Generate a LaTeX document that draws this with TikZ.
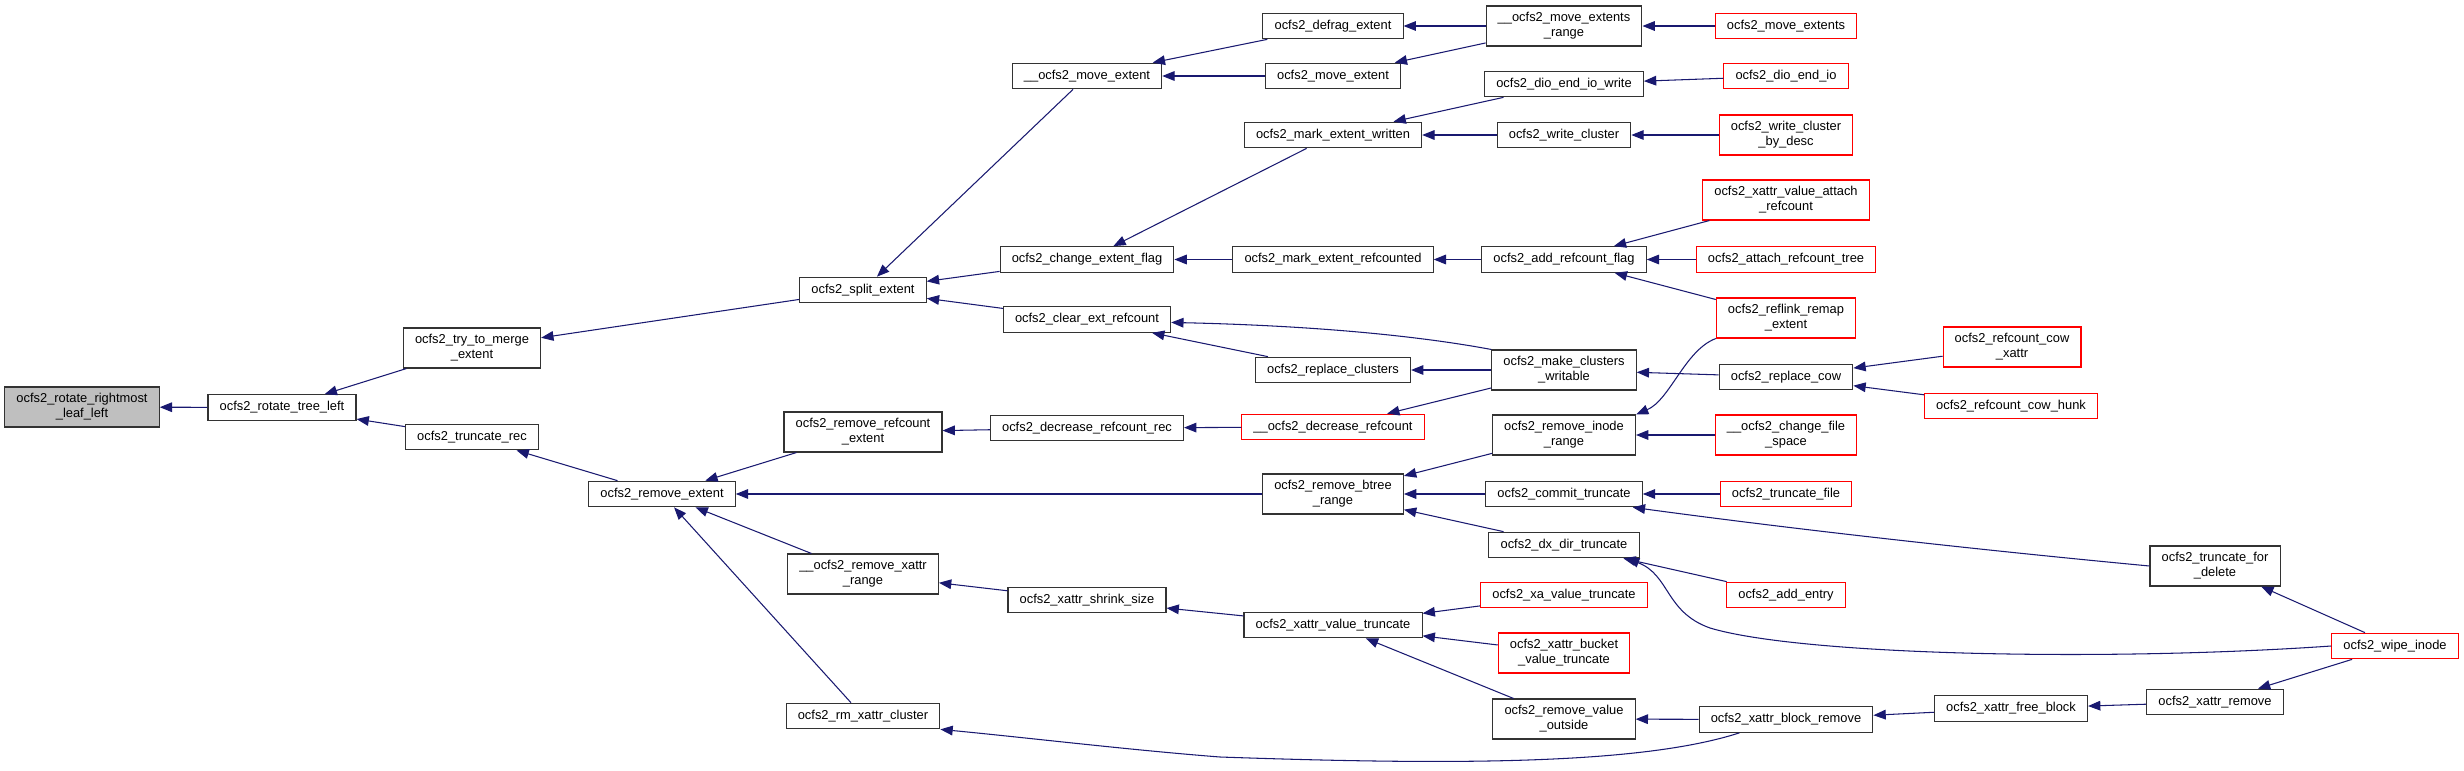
\documentclass[tikz,border=0pt]{standalone}
\usepackage{fontspec}
\setmainfont{Liberation Sans}
\usetikzlibrary{arrows.meta}
\definecolor{edgeBlue}{RGB}{25,25,112}
\definecolor{callerRed}{RGB}{255,0,0}
\definecolor{startFill}{RGB}{191,191,191}
\colorlet{boxInk}{black!80}
\tikzset{
  callarrow/.style={-{Triangle[length=3.7mm,width=2.9mm]}, draw=edgeBlue, line width=0.9pt},
  fn/.style={
    draw=boxInk,
    fill=white,
    line width=0.9pt,
    inner xsep=3.5mm,
    inner ysep=0.5mm,
    minimum height=7.7mm,
    align=center,
    font=\fontsize{11}{12.8}\selectfont
  },
  fntwo/.style={fn, minimum height=12mm},
  redfn/.style={fn, draw=callerRed},
  redfntwo/.style={fntwo, draw=callerRed},
  startfn/.style={fntwo, fill=startFill}
}

\begin{document}
\begin{tikzpicture}[x=0.3mm,y=-0.3mm]
  \useasboundingbox (0,0) rectangle (2464,771);

  \node[startfn] (rrl) at (82,407) {ocfs2\_rotate\_rightmost\\\_leaf\_left};
  \node[fn] (rtl) at (282,407.5) {ocfs2\_rotate\_tree\_left};
  \node[fntwo] (ttm) at (472,348) {ocfs2\_try\_to\_merge\\\_extent};
  \node[fn] (trr) at (472,437) {ocfs2\_truncate\_rec};
  \node[fn] (rme) at (662,494) {ocfs2\_remove\_extent};
  \node[fn] (spl) at (863,290) {ocfs2\_split\_extent};
  \node[fntwo] (rre) at (863,432) {ocfs2\_remove\_refcount\\\_extent};
  \node[fntwo] (rxr) at (863,574) {\_\_ocfs2\_remove\_xattr\\\_range};
  \node[fn] (rxc) at (863,716) {ocfs2\_rm\_xattr\_cluster};

  \node[fn] (mve) at (1087,76) {\_\_ocfs2\_move\_extent};
  \node[fn] (cef) at (1087,259.5) {ocfs2\_change\_extent\_flag};
  \node[fn] (cer) at (1087,319.5) {ocfs2\_clear\_ext\_refcount};
  \node[fn] (dcr) at (1087,428) {ocfs2\_decrease\_refcount\_rec};
  \node[fn] (xss) at (1087,600) {ocfs2\_xattr\_shrink\_size};

  \node[fn] (dfe) at (1333,26) {ocfs2\_defrag\_extent};
  \node[fn] (mv1) at (1333,76) {ocfs2\_move\_extent};
  \node[fn] (mew) at (1333,135) {ocfs2\_mark\_extent\_written};
  \node[fn] (mrc) at (1333,259.5) {ocfs2\_mark\_extent\_refcounted};
  \node[fn] (rpc) at (1333,370) {ocfs2\_replace\_clusters};
  \node[redfn] (ddr) at (1333,427) {\_\_ocfs2\_decrease\_refcount};
  \node[fntwo] (rbr) at (1333,494) {ocfs2\_remove\_btree\\\_range};
  \node[fn] (xvt) at (1333,625) {ocfs2\_xattr\_value\_truncate};

  \node[fntwo] (mer) at (1564,26) {\_\_ocfs2\_move\_extents\\\_range};
  \node[fn] (dew) at (1564,84) {ocfs2\_dio\_end\_io\_write};
  \node[fn] (wcl) at (1564,135) {ocfs2\_write\_cluster};
  \node[fn] (arf) at (1564,259.5) {ocfs2\_add\_refcount\_flag};
  \node[fntwo] (mcw) at (1564,370) {ocfs2\_make\_clusters\\\_writable};
  \node[fntwo] (rir) at (1564,435) {ocfs2\_remove\_inode\\\_range};
  \node[fn] (cmt) at (1564,494) {ocfs2\_commit\_truncate};
  \node[fn] (ddt) at (1564,545) {ocfs2\_dx\_dir\_truncate};
  \node[redfn] (xav) at (1564,595) {ocfs2\_xa\_value\_truncate};
  \node[redfntwo] (xbv) at (1564,653) {ocfs2\_xattr\_bucket\\\_value\_truncate};
  \node[fntwo] (rvo) at (1564,719) {ocfs2\_remove\_value\\\_outside};

  \node[redfn] (mvs) at (1786,26) {ocfs2\_move\_extents};
  \node[redfn] (dei) at (1786,76) {ocfs2\_dio\_end\_io};
  \node[redfntwo] (wcd) at (1786,135) {ocfs2\_write\_cluster\\\_by\_desc};
  \node[redfntwo] (var) at (1786,200) {ocfs2\_xattr\_value\_attach\\\_refcount};
  \node[redfn] (art) at (1786,259.5) {ocfs2\_attach\_refcount\_tree};
  \node[redfntwo] (rfl) at (1786,318) {ocfs2\_reflink\_remap\\\_extent};
  \node[fn] (rcw) at (1786,377) {ocfs2\_replace\_cow};
  \node[redfntwo] (cfs) at (1786,435) {\_\_ocfs2\_change\_file\\\_space};
  \node[redfn] (tfl) at (1786,494) {ocfs2\_truncate\_file};
  \node[redfn] (ade) at (1786,595) {ocfs2\_add\_entry};
  \node[fn] (xbr) at (1786,719.5) {ocfs2\_xattr\_block\_remove};

  \node[redfntwo] (rcx) at (2012,347) {ocfs2\_refcount\_cow\\\_xattr};
  \node[redfn] (rch) at (2011,406) {ocfs2\_refcount\_cow\_hunk};
  \node[fn] (xfb) at (2011,708.5) {ocfs2\_xattr\_free\_block};
  \node[fntwo] (tfd) at (2215,566) {ocfs2\_truncate\_for\\\_delete};
  \node[fn] (xrm) at (2215,702) {ocfs2\_xattr\_remove};
  \node[redfn] (wip) at (2395,646) {ocfs2\_wipe\_inode};

  \draw[callarrow] (rtl) -- (rrl);
  \draw[callarrow] (ttm) -- (rtl);
  \draw[callarrow] (trr) -- (rtl);
  \draw[callarrow] (spl) -- (ttm);
  \draw[callarrow] (rme) -- (trr);
  \draw[callarrow] (mve) -- (spl);
  \draw[callarrow] (cef) -- (spl);
  \draw[callarrow] (cer) -- (spl);
  \draw[callarrow] (rre) -- (rme);
  \draw[callarrow] (rbr) -- (rme);
  \draw[callarrow] (rxr) -- (rme);
  \draw[callarrow] (rxc) -- (rme);
  \draw[callarrow] (dfe) -- (mve);
  \draw[callarrow] (mv1) -- (mve);
  \draw[callarrow] (mer) -- (dfe);
  \draw[callarrow] (mer) -- (mv1);
  \draw[callarrow] (mvs) -- (mer);
  \draw[callarrow] (mew) -- (cef);
  \draw[callarrow] (mrc) -- (cef);
  \draw[callarrow] (dew) -- (mew);
  \draw[callarrow] (wcl) -- (mew);
  \draw[callarrow] (dei) -- (dew);
  \draw[callarrow] (wcd) -- (wcl);
  \draw[callarrow] (arf) -- (mrc);
  \draw[callarrow] (var) -- (arf);
  \draw[callarrow] (art) -- (arf);
  \draw[callarrow] (rfl) -- (arf);
  \draw[callarrow] (mcw.north west) .. controls (1430,338) and (1330,326) .. (cer.-2);
  \draw[callarrow] (rpc) -- (cer);
  \draw[callarrow] (mcw) -- (rpc);
  \draw[callarrow] (rcw) -- (mcw);
  \draw[callarrow] (rcx) -- (rcw);
  \draw[callarrow] (rch) -- (rcw);
  \draw[callarrow] (dcr) -- (rre);
  \draw[callarrow] (ddr) -- (dcr);
  \draw[callarrow] (mcw) -- (ddr);
  \draw[callarrow] (rir) -- (rbr);
  \draw[callarrow] (cmt) -- (rbr);
  \draw[callarrow] (ddt) -- (rbr);
  \draw[callarrow] (rfl.south west) .. controls (1685,350) and (1670,400) .. (rir.north east);
  \draw[callarrow] (cfs) -- (rir);
  \draw[callarrow] (tfl) -- (cmt);
  \draw[callarrow] (tfd.west) .. controls (1980,550) and (1800,530) .. (cmt.-11);
  \draw[callarrow] (ade) -- (ddt);
  \draw[callarrow] (wip.west) .. controls (2100,662) and (1800,655) .. (1710,628)
    .. controls (1665,612) and (1670,575) .. (ddt.-12);
  \draw[callarrow] (wip) -- (tfd);
  \draw[callarrow] (wip) -- (xrm);
  \draw[callarrow] (xrm) -- (xfb);
  \draw[callarrow] (xfb) -- (xbr);
  \draw[callarrow] (xbr) -- (rvo);
  \draw[callarrow] (xbr.-164) .. controls (1640,765) and (1450,765) .. (1220,757)
    .. controls (1130,750) and (1030,738) .. (rxc.south east);
  \draw[callarrow] (rvo) -- (xvt);
  \draw[callarrow] (xav) -- (xvt);
  \draw[callarrow] (xbv) -- (xvt);
  \draw[callarrow] (xss) -- (rxr);
  \draw[callarrow] (xvt) -- (xss);
\end{tikzpicture}
\end{document}
